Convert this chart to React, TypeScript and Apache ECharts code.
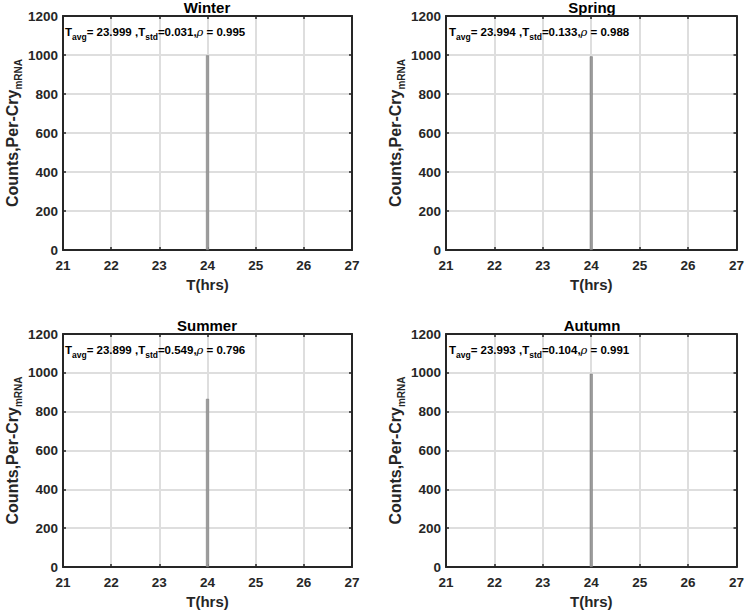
import React, { useEffect, useRef } from "react";
import * as echarts from "echarts";

const seasons = ["Winter", "Spring", "Summer", "Autumn"];
const peakHour = [24, 24, 24, 24];
const peakCounts = [998, 993, 866, 995];
const tAvg = ["23.999", "23.994", "23.899", "23.993"];
const tStd = ["0.031", "0.133", "0.549", "0.104"];
const rhoVals = ["0.995", "0.988", "0.796", "0.991"];
const xTicks = { min: 21, max: 27, step: 1 };
const yTicks = { min: 0, max: 1200, step: 200 };

const FONT = "'Liberation Sans', Arial, Helvetica, sans-serif";
const INK = "#262626";

const GRIDS = [
  { left: 62, top: 16, width: 290, height: 234 },
  { left: 446, top: 16, width: 292, height: 234 },
  { left: 62, top: 334, width: 290, height: 233 },
  { left: 446, top: 334, width: 292, height: 233 },
];

export default function App() {
  const ref = useRef<HTMLDivElement>(null);
  useEffect(() => {
    if (!ref.current) return;
    const chart = echarts.init(ref.current, null, { renderer: "svg" });
    const grid: any[] = [];
    const xAxis: any[] = [];
    const yAxis: any[] = [];
    const series: any[] = [];
    const title: any[] = [];
    const graphic: any[] = [];
    const axisLine = { show: true, onZero: false, lineStyle: { color: INK, width: 2 } };
    const tick = { show: true, inside: true, length: 3, lineStyle: { color: INK, width: 1.5 } };
    const split = { show: true, lineStyle: { color: "#dedede", width: 2 } };
    const label = {
      color: INK, fontSize: 13.5, fontWeight: "bold", fontFamily: FONT,
      formatter: (v: number) => String(v),
    };

    seasons.forEach((s, i) => {
      const g = GRIDS[i];
      grid.push({ ...g, containLabel: false });
      xAxis.push({
        type: "value", gridIndex: i, position: "bottom",
        min: xTicks.min, max: xTicks.max, interval: xTicks.step,
        axisLine, axisTick: tick, splitLine: split,
        axisLabel: { ...label, margin: 8 },
        name: "T(hrs)", nameLocation: "middle", nameGap: 27,
        nameTextStyle: { color: INK, fontSize: 15, fontWeight: "bold", fontFamily: FONT },
      });
      xAxis.push({
        type: "value", gridIndex: i, position: "top",
        min: xTicks.min, max: xTicks.max, interval: xTicks.step,
        axisLine, axisTick: tick, splitLine: { show: false }, axisLabel: { show: false },
      });
      yAxis.push({
        type: "value", gridIndex: i, position: "left",
        min: yTicks.min, max: yTicks.max, interval: yTicks.step,
        axisLine, axisTick: tick, splitLine: split,
        axisLabel: { ...label, margin: 5 },
        name: "Counts,Per-Cry{sub|mRNA}", nameLocation: "middle", nameGap: 40,
        nameTextStyle: {
          color: INK, fontSize: 16, fontWeight: "bold", fontFamily: FONT, lineHeight: 22,
          rich: {
            sub: { color: INK, fontSize: 10, fontWeight: "bold", fontFamily: FONT, lineHeight: 10, verticalAlign: "bottom" },
          },
        },
      });
      yAxis.push({
        type: "value", gridIndex: i, position: "right",
        min: yTicks.min, max: yTicks.max, interval: yTicks.step,
        axisLine, axisTick: tick, splitLine: { show: false }, axisLabel: { show: false },
      });
      series.push({
        type: "bar", xAxisIndex: 2 * i, yAxisIndex: 2 * i,
        data: [[peakHour[i], peakCounts[i]]],
        barWidth: 3,
        itemStyle: { color: "#9c9c9c", borderColor: "#777", borderWidth: 0.5 },
        z: 3,
      });
      graphic.push({
        type: "text",
        x: g.left + g.width / 2,
        y: g.top - 9,
        style: {
          text: s, fill: "#000", fontSize: 15, fontWeight: "bold", fontFamily: FONT,
          align: "center", verticalAlign: "middle", textAlign: "center", textVerticalAlign: "middle",
        },
      });
      title.push({
        left: g.left + 3,
        top: g.top + 7,
        padding: 0,
        text: `T{sub|avg}= ${tAvg[i]} ,T{sub|std}=${tStd[i]},{it|ρ} = ${rhoVals[i]}`,
        textStyle: {
          color: "#000", fontSize: 11.5, fontWeight: "bold", fontFamily: FONT, lineHeight: 18,
          rich: {
            sub: { color: "#000", fontSize: 8.5, fontWeight: "bold", fontFamily: FONT, lineHeight: 8, verticalAlign: "bottom" },
            it: { color: "#000", fontSize: 11.5, fontStyle: "italic", fontWeight: "normal", fontFamily: "'DejaVu Serif', serif", lineHeight: 18 },
          },
        },
      });
    });

    chart.setOption({
      animation: false,
      backgroundColor: "#ffffff",
      grid, xAxis, yAxis, series, title, graphic,
    });
    return () => chart.dispose();
  }, []);
  return (
    <div
      ref={ref}
      style={{ position: "absolute", left: 0, top: 0, width: 747, height: 611, background: "#fff" }}
    />
  );
}
